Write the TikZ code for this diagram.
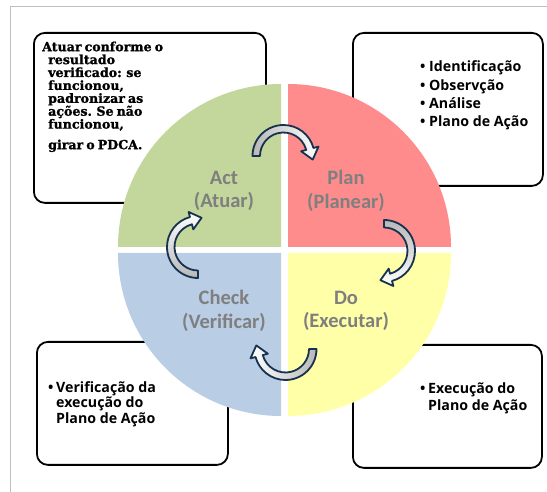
\documentclass[tikz,border=0pt]{standalone}
\usepackage{fontspec}
\setmainfont{Carlito}
\newfontfamily\labelfont{Carlito}
\newfontfamily\notefont{Open Sans}
\newfontfamily\actfont{DejaVu Serif}[WordSpace=0.7, BoldFeatures={FakeBold=1.2}]

\definecolor{quadgreen}{HTML}{C3D69B}
\definecolor{quadred}{HTML}{FF8C8C}
\definecolor{quadyellow}{HTML}{FFFFA8}
\definecolor{quadblue}{HTML}{B9CDE5}
\definecolor{labelgray}{HTML}{7F7F7F}
\definecolor{framegray}{HTML}{BFBFBF}
\definecolor{arrowblue}{HTML}{17324F}
\definecolor{arrowgray}{HTML}{B8B8B8}

\tikzset{
  notebox/.style={draw=black, line width=1.8pt, rounded corners=11pt,
    anchor=north west, inner sep=0pt},
  phase/.style={text=labelgray, inner sep=0pt, align=center,
    font=\labelfont\bfseries\fontsize{20.5}{23.5}\selectfont},
  notetext/.style={anchor=north west, inner sep=0pt, align=left,
    font=\notefont\bfseries\fontsize{14.2}{18.3}\selectfont},
  acttext/.style={anchor=north west, inner sep=0pt, align=left,
    font=\actfont\bfseries\fontsize{12.6}{12.9}\selectfont},
  cyclearrow/.style={draw=arrowblue, line width=1.8pt, line join=round},
}

% curved block arrow around a centre point, tail at 180 deg, head near 0 deg
\newcommand\cyclearrowat[3]{%
  \begin{scope}[shift={#1}, rotate=#2]
    \shadedraw[cyclearrow, #3] (180:31) arc[start angle=180, end angle=15, radius=31]
      -- (15:36.25) -- (29.2,-3.6) -- (15:18.25) -- (15:23.5)
      arc[start angle=15, end angle=180, radius=23.5] -- cycle;
  \end{scope}}

\newcommand\bul[1]{\makebox[#1][l]{\textbullet}}

\begin{document}
\begin{tikzpicture}[x=1pt, y=1pt]
\useasboundingbox (0,0) rectangle (547,492);

% outer frame
\draw[framegray, line width=1pt] (10,0) -- (10,485) -- (547,485);

% note boxes
\node[notebox, minimum width=232pt, minimum height=170pt] (actbox) at (33,460) {};
\node[notebox, minimum width=190pt, minimum height=153pt] (planbox) at (352,460) {};
\node[notebox, minimum width=191pt, minimum height=123pt] (checkbox) at (36,151) {};
\node[notebox, minimum width=189pt, minimum height=123pt] (dobox) at (352,148) {};

% the four quadrants
\fill[quadgreen]  (281,245) -- (281,408) arc[start angle=90,  end angle=180, radius=163] -- cycle;
\fill[quadred]    (288,245) -- (451,245) arc[start angle=0,   end angle=90,  radius=163] -- cycle;
\fill[quadblue]   (281,239) -- (118,239) arc[start angle=180, end angle=270, radius=163] -- cycle;
\fill[quadyellow] (288,239) -- (288,76)  arc[start angle=270, end angle=360, radius=163] -- cycle;

% phase labels
\node[phase] (act)   at (224,301) {Act\\(Atuar)};
\node[phase] (plan)  at (346,301) {Plan\\(Planear)};
\node[phase] (check) at (224,181) {Check\\(Verificar)};
\node[phase] (do)    at (346,181) {Do\\(Executar)};

% cycle arrows
\coordinate (arrowtop)    at (283.5,336);
\coordinate (arrowright)  at (384,241);
\coordinate (arrowbottom) at (285.5,143);
\coordinate (arrowleft)   at (198,245);
\cyclearrowat{(arrowtop)}{0}{left color=arrowgray, right color=white}
\cyclearrowat{(arrowright)}{-90}{top color=arrowgray, bottom color=white}
\cyclearrowat{(arrowbottom)}{180}{right color=arrowgray, left color=white}
\cyclearrowat{(arrowleft)}{90}{bottom color=arrowgray, top color=white}

% note texts
\node[acttext] (actnote) at (42,451) {\rule{0pt}{10pt}Atuar conforme o\\
  \hspace*{6pt}resultado\\
  \hspace*{6pt}verificado: se\\
  \hspace*{6pt}funcionou,\\
  \hspace*{6pt}padronizar as\\
  \hspace*{6pt}ações. Se não\\
  \hspace*{6pt}funcionou,\\[7.7pt]
  \hspace*{6pt}girar o PDCA.};

\node[notetext] (plannote) at (420,431.3) {\rule{0pt}{11pt}\bul{9pt}Identificação\\
  \bul{9pt}Observção\\
  \bul{9pt}Análise\\
  \bul{9pt}Plano de Ação};

\node[notetext, font=\notefont\bfseries\fontsize{14.2}{15.5}\selectfont] (checknote) at (48,111)
  {\rule{0pt}{11pt}\bul{8pt}Verificação da\\
  \hspace*{8pt}execução do\\
  \hspace*{8pt}Plano de Ação};

\node[notetext, font=\notefont\bfseries\fontsize{14.2}{16.5}\selectfont] (donote) at (420,109.5)
  {\rule{0pt}{11pt}\bul{8pt}Execução do\\
  \hspace*{8pt}Plano de Ação};
\end{tikzpicture}
\end{document}
